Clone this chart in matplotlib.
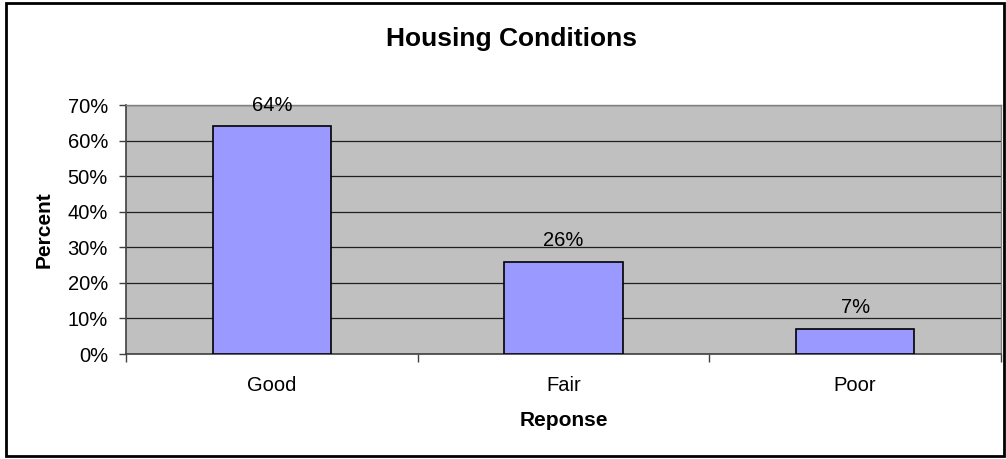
import matplotlib
matplotlib.use("Agg")
import matplotlib.pyplot as plt
from matplotlib.patches import Rectangle
from matplotlib.ticker import FixedLocator, PercentFormatter

categories = ["Good", "Fair", "Poor"]
values = [64, 26, 7]
yticks = [0, 10, 20, 30, 40, 50, 60, 70]

plt.rcParams['font.family'] = ['Liberation Sans', 'DejaVu Sans']

fig = plt.figure(figsize=(10.06, 4.59), dpi=100)
ax = fig.add_axes([126/1006, 1-354/459, (1001-126)/1006, (354-105)/459])
ax.set_facecolor("#C0C0C0")

x = list(range(len(categories)))
ax.bar(x, values, width=0.405, color="#9999FF", edgecolor="black", linewidth=1.2, zorder=3)
for xi, v in zip(x, values):
    ax.annotate(f"{v}%", (xi, v), xytext=(0, 8.5), textcoords="offset points",
                ha="center", va="bottom", fontsize=14.5, zorder=4)

ax.set_xlim(-0.5, 2.5)
ax.set_ylim(0, 70)
ax.set_yticks(yticks)
ax.yaxis.set_major_formatter(PercentFormatter(decimals=0))
ax.yaxis.grid(True, color="#202020", linewidth=0.9, zorder=1)
ax.set_axisbelow(True)

ax.set_xticks(x)
ax.set_xticklabels(categories)
ax.xaxis.set_minor_locator(FixedLocator([-0.5, 0.5, 1.5, 2.5]))
ax.tick_params(axis="x", which="major", length=0, pad=16, labelsize=14.5)
ax.tick_params(axis="x", which="minor", length=6, width=1, color="#404040")
ax.tick_params(axis="y", length=5, width=1, color="#404040", labelsize=14.5, pad=8)

for s in ["left", "bottom"]:
    ax.spines[s].set_color("#404040")
    ax.spines[s].set_linewidth(1.2)
for s in ["top", "right"]:
    ax.spines[s].set_color("#808080")
    ax.spines[s].set_linewidth(1.0)

ax.set_xlabel("Reponse", fontsize=15, fontweight="bold", labelpad=11)
ax.set_ylabel("Percent", fontsize=15, fontweight="bold", labelpad=10)
fig.text(512/1006, 1-39/459, "Housing Conditions", ha="center", va="center",
         fontsize=19, fontweight="bold")

fig.patches.append(Rectangle((6/1006, 3/459), (1004-6)/1006, (456-3)/459,
                             transform=fig.transFigure, fill=False,
                             edgecolor="black", linewidth=2))

fig.savefig("out.png", dpi=100)
